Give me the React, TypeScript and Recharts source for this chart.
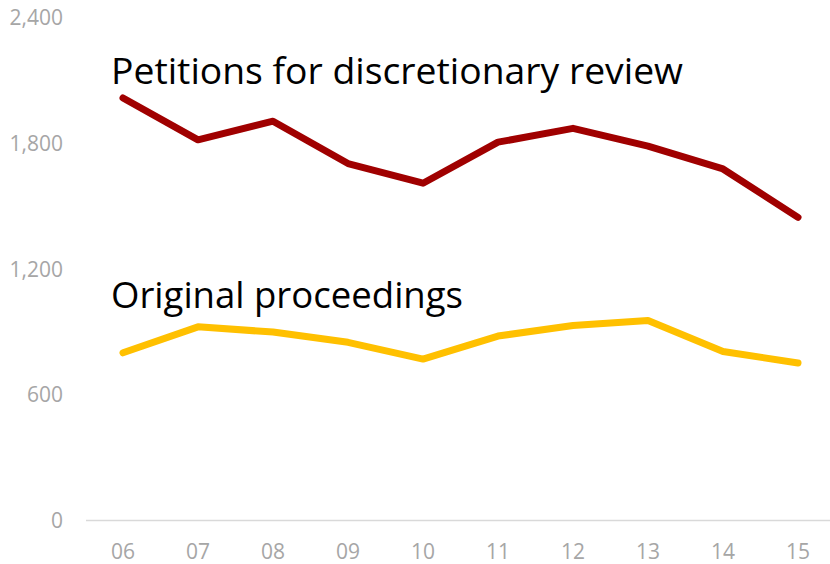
import React from "react";
import { LineChart, Line, XAxis, YAxis } from "recharts";

const years = ["06", "07", "08", "09", "10", "11", "12", "13", "14", "15"];
const petitions = [2018, 1818, 1907, 1705, 1611, 1807, 1873, 1788, 1679, 1448];
const originals = [801, 925, 900, 851, 771, 881, 931, 955, 807, 752];
const yTicks = [0, 600, 1200, 1800, 2400];

const data = years.map((year, i) => ({
  year,
  petitions: petitions[i],
  originals: originals[i],
}));

const tickStyle = {
  fill: "#a6a6a6",
  fontSize: 21,
  fontFamily: "'Open Sans', sans-serif",
};

const App = () => {
  return (
    <div
      style={{
        position: "absolute",
        top: 0,
        left: 0,
        width: 830,
        height: 564,
        overflow: "hidden",
        background: "#fff",
      }}
    >
      <LineChart
        width={835}
        height={564}
        data={data}
        margin={{ top: 18, right: 0, left: 0, bottom: 0 }}
      >
        <XAxis
          dataKey="year"
          height={43.5}
          padding={{ left: 37, right: 37 }}
          axisLine={{ stroke: "#d9d9d9", strokeWidth: 1.5 }}
          tickLine={false}
          tickSize={0}
          tickMargin={24}
          tick={tickStyle}
          interval={0}
        />
        <YAxis
          width={86}
          domain={[0, 2400]}
          ticks={yTicks}
          axisLine={false}
          tickLine={false}
          tickSize={0}
          tickMargin={23}
          tick={tickStyle}
          tickFormatter={(v: number) => v.toLocaleString("en-US")}
        />
        <Line
          dataKey="petitions"
          stroke="#a00000"
          strokeWidth={7}
          strokeLinecap="round"
          strokeLinejoin="round"
          dot={false}
          isAnimationActive={false}
        />
        <Line
          dataKey="originals"
          stroke="#ffc000"
          strokeWidth={7}
          strokeLinecap="round"
          strokeLinejoin="round"
          dot={false}
          isAnimationActive={false}
        />
      </LineChart>
      <svg
        width={830}
        height={564}
        style={{ position: "absolute", top: 0, left: 0, pointerEvents: "none" }}
      >
        <g fontFamily="'Open Sans', sans-serif" fontSize={36} fill="#000">
          <text x={111} y={83.5} textLength={572} lengthAdjust="spacingAndGlyphs">
            Petitions for discretionary review
          </text>
          <text x={111} y={307.5} textLength={352} lengthAdjust="spacingAndGlyphs">
            Original proceedings
          </text>
        </g>
      </svg>
    </div>
  );
};

export default App;
